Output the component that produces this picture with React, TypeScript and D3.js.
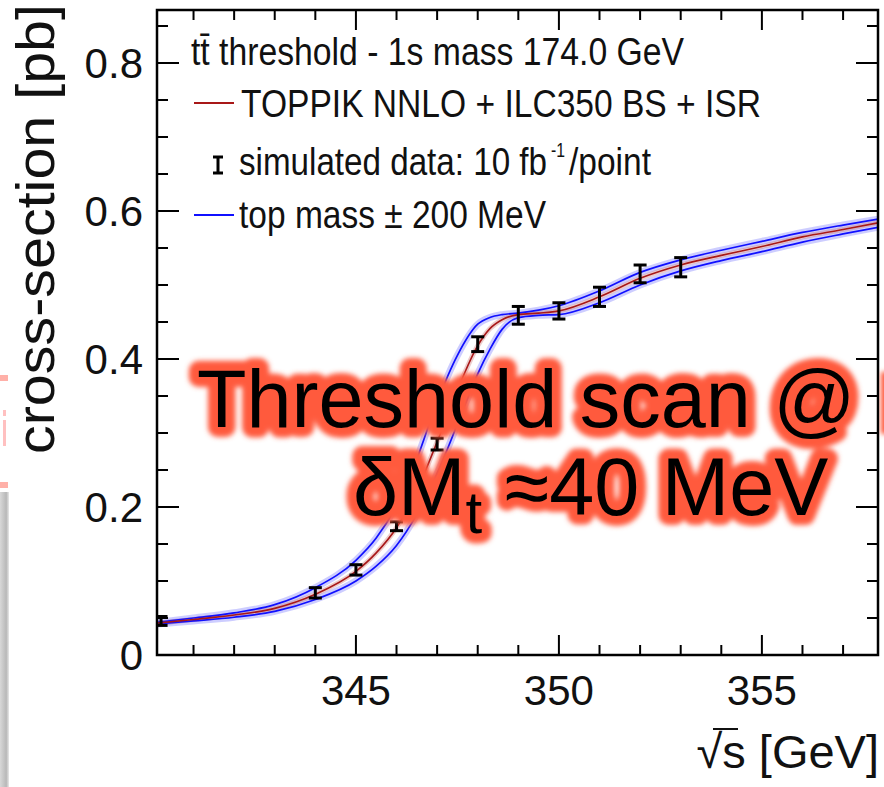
import React from 'react';
import * as d3 from 'd3';

// ---- data ----
const sqrtS = [340.1, 341, 342, 343, 344, 345, 345.5, 346, 346.5, 347, 347.5, 348, 348.3, 348.6, 349, 349.5, 350, 351, 352, 353, 354, 355, 356, 357, 357.86];
const sigmaCentral = [0.043, 0.048, 0.054, 0.063, 0.082, 0.113, 0.138, 0.172, 0.222, 0.288, 0.358, 0.418, 0.441, 0.453, 0.460, 0.462, 0.465, 0.484, 0.509, 0.527, 0.540, 0.552, 0.565, 0.575, 0.584];
const sigmaMassMinus = [0.044, 0.050, 0.057, 0.068, 0.091, 0.128, 0.158, 0.202, 0.265, 0.342, 0.405, 0.447, 0.456, 0.460, 0.462, 0.466, 0.472, 0.492, 0.517, 0.534, 0.547, 0.559, 0.571, 0.581, 0.589];
const sigmaMassPlus = [0.042, 0.046, 0.051, 0.059, 0.075, 0.100, 0.120, 0.148, 0.190, 0.245, 0.312, 0.380, 0.413, 0.440, 0.456, 0.459, 0.460, 0.476, 0.500, 0.519, 0.533, 0.545, 0.558, 0.569, 0.578];

const dataS = [340.2, 344, 345, 346, 347, 348, 349, 350, 351, 352, 353];
const dataSigma = [0.046, 0.084, 0.115, 0.174, 0.285, 0.420, 0.459, 0.465, 0.484, 0.515, 0.524];
const dataErr = [0.006, 0.007, 0.007, 0.006, 0.008, 0.010, 0.012, 0.011, 0.013, 0.012, 0.013];

const xMajorTicks = [345, 350, 355];
const xMinorTicks = [341, 342, 343, 344, 346, 347, 348, 349, 351, 352, 353, 354, 356, 357];
const yMajorTicks = [0, 0.2, 0.4, 0.6, 0.8];
const yMinorTicks = [0.05, 0.1, 0.15, 0.25, 0.3, 0.35, 0.45, 0.5, 0.55, 0.65, 0.7, 0.75, 0.85];
const yTickLabels = ['0', '0.2', '0.4', '0.6', '0.8'];
const xTickLabels = ['345', '350', '355'];

const legendTitle = 't\u0074\u0304 threshold - 1s mass 174.0 GeV';
const legendModel = 'TOPPIK NNLO + ILC350 BS + ISR';
const legendData = 'simulated data: 10 fb';
const legendDataSup = '-1';
const legendDataEnd = '/point';
const legendBand = 'top mass \u00b1 200 MeV';
const yTitle = 'cross-section [pb]';
const xTitle = '\u221as [GeV]';
const overlayLine1 = 'Threshold scan @';

const W = 884;
const H = 787;
const L = 157, R = 878, T = 10, B = 655;
const FONT = '"Liberation Sans", Arial, Helvetica, sans-serif';

export default function App() {
  const x = d3.scaleLinear().domain([340.1, 357.86]).range([L, R]);
  const y = d3.scaleLinear().domain([0, 0.8716]).range([B, T]);
  const line = d3
    .line<number>()
    .x((_, i) => x(sqrtS[i]))
    .y((d) => y(d))
    .curve(d3.curveMonotoneX);

  const major = 20;
  const minor = 10;

  const overlay = (
    <>
      <text x={197} y={427}>{overlayLine1}</text>
      <text x={353} y={515}>
        δM<tspan fontSize={60} dy={18}>t</tspan>
        <tspan dy={-18}> ≈40 MeV</tspan>
      </text>
    </>
  );

  return (
    <svg
      width={W}
      height={H}
      style={{ position: 'absolute', left: 0, top: 0, background: '#fff' }}
      fontFamily={FONT}
    >
      <defs>
        <clipPath id="frame">
          <rect x={L} y={T} width={R - L} height={B - T} />
        </clipPath>
        <filter id="glow" x="-10%" y="-30%" width="120%" height="160%">
          <feGaussianBlur stdDeviation="2.6" />
        </filter>
        <linearGradient id="grayBar" x1="0" x2="1" y1="0" y2="0">
          <stop offset="0" stopColor="#d8d8d8" />
          <stop offset="0.7" stopColor="#b8b8b8" />
          <stop offset="1" stopColor="#e8e8e8" />
        </linearGradient>
      </defs>
      <rect x={0} y={0} width={W} height={H} fill="#fff" />

      {/* slide remnants on the left edge */}
      <rect x={0} y={492} width={9} height={H - 492} fill="url(#grayBar)" />
      <rect x={0} y={375} width={8} height={6} fill="#ffb0a8" />
      <rect x={3} y={410} width={3} height={6} fill="#ffc0c0" />
      <rect x={3} y={420} width={3} height={26} fill="#ffc0c0" />
      <rect x={0} y={482} width={8} height={6} fill="#ffb0a8" />

      {/* curves */}
      <g clipPath="url(#frame)" fill="none">
        <path d={line(sigmaMassMinus) || ''} stroke="#7070ff" strokeOpacity={0.35} strokeWidth={7} />
        <path d={line(sigmaMassPlus) || ''} stroke="#7070ff" strokeOpacity={0.35} strokeWidth={7} />
        <path d={line(sigmaCentral) || ''} stroke="#d08080" strokeOpacity={0.4} strokeWidth={5} />
        <path d={line(sigmaMassMinus) || ''} stroke="#1010ff" strokeWidth={1.7} />
        <path d={line(sigmaMassPlus) || ''} stroke="#1010ff" strokeWidth={1.7} />
        <path d={line(sigmaCentral) || ''} stroke="#a81818" strokeWidth={1.6} />
        {dataS.map((s, i) => {
          const cx = x(s);
          const y1 = y(dataSigma[i] + dataErr[i]);
          const y2 = y(dataSigma[i] - dataErr[i]);
          return (
            <g key={i} stroke="#000" strokeWidth={3}>
              <line x1={cx} x2={cx} y1={y1} y2={y2} />
              <line x1={cx - 6.5} x2={cx + 6.5} y1={y1} y2={y1} />
              <line x1={cx - 6.5} x2={cx + 6.5} y1={y2} y2={y2} />
            </g>
          );
        })}
      </g>

      {/* ticks */}
      <g stroke="#000" strokeWidth={2}>
        {xMajorTicks.map((t) => (
          <g key={'xM' + t}>
            <line x1={x(t)} x2={x(t)} y1={B} y2={B - major} />
            <line x1={x(t)} x2={x(t)} y1={T} y2={T + major} />
          </g>
        ))}
        {xMinorTicks.map((t) => (
          <g key={'xm' + t}>
            <line x1={x(t)} x2={x(t)} y1={B} y2={B - minor} />
            <line x1={x(t)} x2={x(t)} y1={T} y2={T + minor} />
          </g>
        ))}
        {yMajorTicks.map((t) => (
          <g key={'yM' + t}>
            <line x1={L} x2={L + major + 2} y1={y(t)} y2={y(t)} />
            <line x1={R} x2={R - major - 2} y1={y(t)} y2={y(t)} />
          </g>
        ))}
        {yMinorTicks.map((t) => (
          <g key={'ym' + t}>
            <line x1={L} x2={L + minor + 1} y1={y(t)} y2={y(t)} />
            <line x1={R} x2={R - minor - 1} y1={y(t)} y2={y(t)} />
          </g>
        ))}
      </g>
      <rect x={L} y={T} width={R - L} height={B - T} fill="none" stroke="#000" strokeWidth={2.5} />

      {/* tick labels */}
      <g fontSize={42} fill="#111">
        {yMajorTicks.map((t, i) => (
          <text key={'yl' + t} x={143} y={y(t)} dy="0.36em" textAnchor="end">
            {yTickLabels[i]}
          </text>
        ))}
        {xMajorTicks.map((t, i) => (
          <text key={'xl' + t} x={x(t)} y={705} textAnchor="middle">
            {xTickLabels[i]}
          </text>
        ))}
      </g>

      {/* axis titles */}
      <text
        transform="translate(54,4) rotate(-90)"
        textAnchor="end"
        fontSize={53}
        fill="#111"
        textLength={450}
        lengthAdjust="spacingAndGlyphs"
      >
        {yTitle}
      </text>
      <text x={879} y={768} textAnchor="end" fontSize={47} fill="#111">
        {xTitle}
      </text>
      <line x1={713} x2={738} y1={729} y2={729} stroke="#111" strokeWidth={2} />

      {/* legend */}
      <g fontSize={38} fill="#111">
        <text x={191} y={65} textLength={493} lengthAdjust="spacingAndGlyphs">
          {legendTitle}
        </text>
        <line x1={194} x2={234} y1={103} y2={103} stroke="#a81818" strokeWidth={2} />
        <text x={241} y={117} textLength={520} lengthAdjust="spacingAndGlyphs">
          {legendModel}
        </text>
        <g stroke="#000" strokeWidth={3}>
          <line x1={218} x2={218} y1={157} y2={173} />
          <line x1={213} x2={223} y1={157} y2={157} />
          <line x1={213} x2={223} y1={173} y2={173} />
        </g>
        <text x={239} y={175} textLength={308} lengthAdjust="spacingAndGlyphs">
          {legendData}
        </text>
        <text x={551} y={157} fontSize={20} textLength={14} lengthAdjust="spacingAndGlyphs">
          {legendDataSup}
        </text>
        <text x={569} y={175} textLength={82} lengthAdjust="spacingAndGlyphs">
          {legendDataEnd}
        </text>
        <line x1={194} x2={234} y1={215} y2={215} stroke="#1010ff" strokeWidth={2} />
        <text x={239} y={228} textLength={307} lengthAdjust="spacingAndGlyphs">
          {legendBand}
        </text>
      </g>

      {/* overlay text with red glow */}
      <g fontSize={81}>
        <g filter="url(#glow)" stroke="#ff5a3c" strokeWidth={20} strokeLinejoin="round" fill="#ff5a3c">
          {overlay}
        </g>
        <rect x={881} y={372} width={12} height={62} fill="#ff5a3c" filter="url(#glow)" />
        <g fill="#000">{overlay}</g>
      </g>
    </svg>
  );
}
